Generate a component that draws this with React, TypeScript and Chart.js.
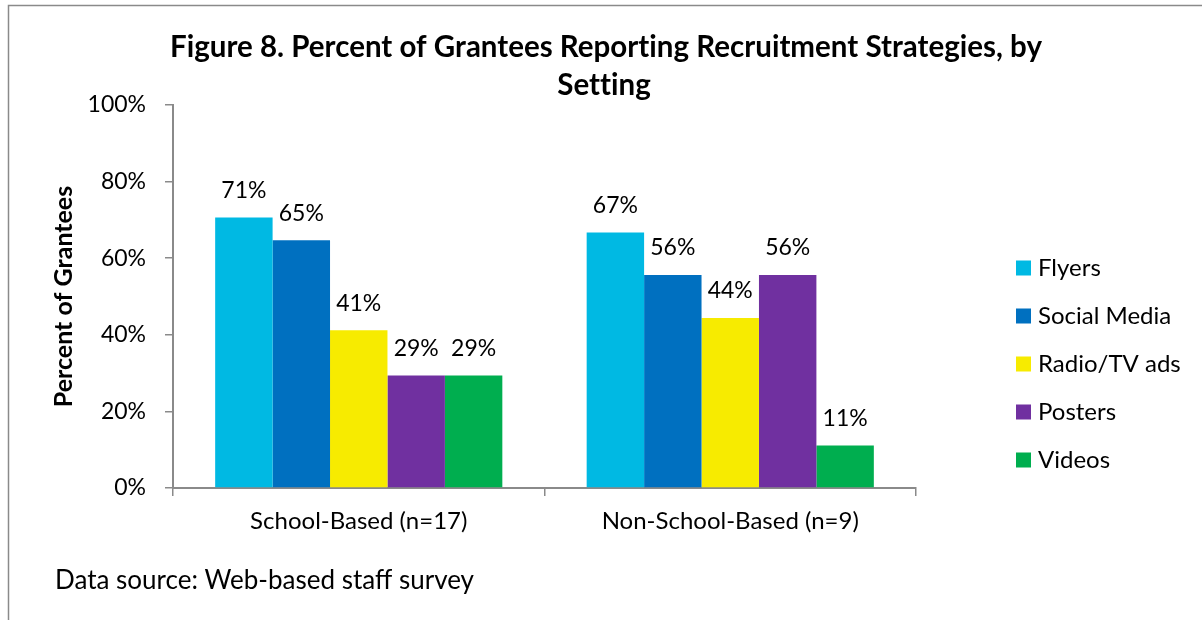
import React, { useEffect, useRef } from "react";
import { Chart, registerables } from "chart.js";

Chart.register(...registerables);

const categories = ["School-Based (n=17)", "Non-School-Based (n=9)"];
const seriesNames = ["Flyers", "Social Media", "Radio/TV ads", "Posters", "Videos"];
const flyers = [70.6, 66.7];
const socialMedia = [64.7, 55.6];
const radioTv = [41.2, 44.4];
const posters = [29.4, 55.6];
const videos = [29.4, 11.1];
const seriesColors = ["#00B9E3", "#0070C0", "#F7EB00", "#7030A0", "#00AE4F"];
const yTicks = [0, 20, 40, 60, 80, 100];

const titleLines = [
  "Figure 8. Percent of Grantees Reporting Recruitment Strategies, by",
  "Setting",
];
const yTitle = "Percent of Grantees";
const sourceNote = "Data source: Web-based staff survey";

const FONT = "Lato, 'Open Sans', sans-serif";

const decorPlugin = {
  id: "decor",
  afterDraw(chart: any) {
    const ctx = chart.ctx as any;
    const area = chart.chartArea;
    ctx.save();
    // frame
    ctx.strokeStyle = "#8a8a8a";
    ctx.lineWidth = 1.5;
    ctx.beginPath();
    ctx.moveTo(8.5, 620);
    ctx.lineTo(8.5, 5.5);
    ctx.lineTo(1202, 5.5);
    ctx.stroke();

    // title (small letterSpacing disables ligatures)
    ctx.fillStyle = "#000";
    ctx.textAlign = "center";
    ctx.textBaseline = "middle";
    ctx.font = `bold 29.5px ${FONT}`;
    if ("letterSpacing" in ctx) ctx.letterSpacing = "0.01px";
    ctx.fillText(titleLines[0], 606, 47);
    ctx.fillText(titleLines[1], 604, 85);
    if ("letterSpacing" in ctx) ctx.letterSpacing = "0px";

    // y title
    ctx.save();
    ctx.translate(64, (area.top + area.bottom) / 2);
    ctx.rotate(-Math.PI / 2);
    ctx.font = `bold 25px ${FONT}`;
    ctx.fillText(yTitle, 0, 0);
    ctx.restore();

    // legend
    ctx.textAlign = "left";
    ctx.font = `24px ${FONT}`;
    chart.data.datasets.forEach((ds: any, i: number) => {
      const cy = 268 + i * 48;
      ctx.fillStyle = ds.backgroundColor;
      ctx.fillRect(1016, cy - 7.5, 15, 15);
      ctx.fillStyle = "#000";
      ctx.fillText(ds.label, 1038, cy);
    });

    // source
    ctx.font = `26px ${FONT}`;
    ctx.fillText(sourceNote, 55, 581);

    // data labels
    ctx.textAlign = "center";
    ctx.font = `23px ${FONT}`;
    chart.data.datasets.forEach((ds: any, i: number) => {
      const meta = chart.getDatasetMeta(i);
      meta.data.forEach((bar: any, j: number) => {
        const v = ds.data[j];
        ctx.fillText(`${Math.round(v)}%`, bar.x, bar.y - 27);
      });
    });
    ctx.restore();
  },
};

export default function App() {
  const ref = useRef<HTMLCanvasElement>(null);
  useEffect(() => {
    let chart: Chart | null = null;
    let cancelled = false;
    const make = () => {
      if (cancelled || !ref.current) return;
      const values = [flyers, socialMedia, radioTv, posters, videos];
      chart = new Chart(ref.current, {
        type: "bar",
        data: {
          labels: categories,
          datasets: seriesNames.map((name, i) => ({
            label: name,
            data: values[i],
            backgroundColor: seriesColors[i],
            borderWidth: 0,
            barPercentage: 1,
            categoryPercentage: 0.773,
          })),
        },
        options: {
          responsive: false,
          animation: false,
          layout: { padding: { top: 105, right: 286, left: 0, bottom: 0 } },
          plugins: {
            legend: { display: false },
            title: { display: false },
            tooltip: { enabled: false },
          },
          scales: {
            x: {
              afterFit: (s: any) => {
                s.height = 132;
              },
              grid: {
                display: true,
                drawOnChartArea: false,
                drawTicks: true,
                tickLength: 8,
                color: "#8a8a8a",
                lineWidth: 1.5,
                offset: true,
              },
              border: { color: "#8a8a8a", width: 2 },
              ticks: {
                color: "#000",
                font: { family: FONT, size: 24 },
                padding: 11,
              },
            },
            y: {
              min: 0,
              max: 100,
              afterFit: (s: any) => {
                s.width = 173;
              },
              afterBuildTicks: (s: any) => {
                s.ticks = yTicks.map((v) => ({ value: v }));
              },
              grid: {
                display: true,
                drawOnChartArea: false,
                drawTicks: true,
                tickLength: 8,
                color: "#8a8a8a",
                lineWidth: 1.5,
              },
              border: { color: "#8a8a8a", width: 2 },
              ticks: {
                color: "#000",
                font: { family: FONT, size: 23 },
                padding: 19,
                callback: (v: any) => `${v}%`,
              },
            },
          },
        },
        plugins: [decorPlugin],
      });
    };
    const fonts = (document as any).fonts;
    if (fonts && fonts.load) {
      Promise.all([
        fonts.load(`22px Lato`),
        fonts.load(`bold 22px Lato`),
      ]).then(make, make);
    } else make();
    return () => {
      cancelled = true;
      if (chart) chart.destroy();
    };
  }, []);
  return (
    <div style={{ position: "absolute", left: 0, top: 0, width: 1202, height: 620, background: "#fff" }}>
      <canvas ref={ref} width={1202} height={620} style={{ width: 1202, height: 620, display: "block" }} />
    </div>
  );
}
